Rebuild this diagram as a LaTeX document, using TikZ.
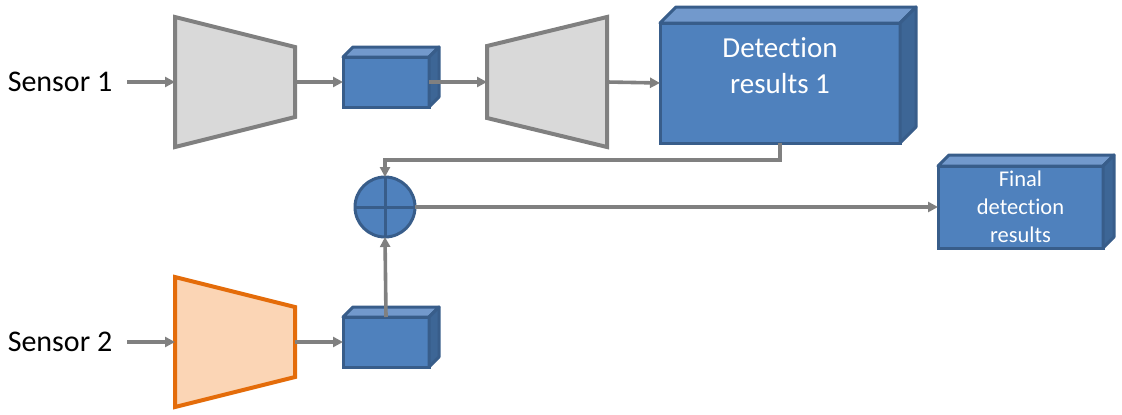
\documentclass[tikz,border=0pt]{standalone}
\usepackage{fontspec}
\setmainfont{Carlito}[RawFeature={-liga;-calt;-clig}]
\usetikzlibrary{calc, arrows.meta}
\definecolor{boxblue}{HTML}{4F81BD}
\definecolor{boxedge}{HTML}{385D8A}
\definecolor{boxtop}{HTML}{7299CC}
\definecolor{boxside}{HTML}{3D6696}
\definecolor{encgray}{HTML}{D9D9D9}
\definecolor{linegray}{HTML}{808080}
\definecolor{encorange}{HTML}{E46C0A}
\definecolor{encpeach}{HTML}{FBD5B5}
\xdef\LWS{3.6pt}
\xdef\LWT{4pt}
\xdef\LWB{3pt}
\newcommand\Cuboid[2]{%
\filldraw[boxtop,draw=boxedge,line width=\LWB,line join=round] (#1.north west)--++(#2,-#2)--($(#1.north east)+(#2,-#2)$)--(#1.north east)--cycle;
\filldraw[boxside,draw=boxedge,line width=\LWB,line join=round] (#1.north east)--++(#2,-#2)--($(#1.south east)+(#2,-#2)$)--(#1.south east)--cycle;}

\begin{document}
\begin{tikzpicture}[x=1pt,y=-1pt,inner sep=0,outer sep=0,
 flow/.style={line width=\LWS,linegray,-{Triangle[length=10pt,width=10pt]}},
 taper/.style={minimum width=120pt,minimum height=130pt},
 cube/.style={rectangle,fill=boxblue,draw=boxedge,line width=\LWB},
 sensor/.style={font=\fontsize{30}{36}\selectfont},
 boxtext/.style={white,align=center}]
\useasboundingbox (0,0) rectangle (1122,415);
\node[sensor] (s1) at (60,82) {Sensor 1};
\node[sensor] (s2) at (60,342) {Sensor 2};
\node[taper] (enc1) at (235,82) {};
\node[taper] (dec1) at (547,82) {};
\node[taper] (enc2) at (235,342) {};
\draw[line width=\LWT,linegray,fill=encgray] (enc1.north west)--($(enc1.north east)+(0,30)$)--($(enc1.south east)+(0,-30)$)--(enc1.south west)--cycle;
\draw[line width=\LWT,linegray,fill=encgray] ($(dec1.north west)+(0,29)$)--(dec1.north east)--(dec1.south east)--($(dec1.south west)+(0,-29)$)--cycle;
\draw[line width=\LWT,encorange,fill=encpeach] (enc2.north west)--($(enc2.north east)+(0,30)$)--($(enc2.south east)+(0,-30)$)--(enc2.south west)--cycle;
\node[cube,minimum width=86pt,minimum height=50pt] (f1) at (386,82) {};
\Cuboid{f1}{10}
\node[cube,minimum width=86pt,minimum height=50pt] (f2) at (386,342) {};
\Cuboid{f2}{10}
\node[cube,minimum width=240pt,minimum height=120pt] (det1) at (780,83) {};
\Cuboid{det1}{16}
\node[boxtext,font=\fontsize{29}{36}\selectfont] (det1txt) at ($(det1)+(0,-17.5)$) {Detection\\results 1};
\node[cube,minimum width=165pt,minimum height=82pt] (fin) at (1020.5,207) {};
\Cuboid{fin}{11}
\node[boxtext,font=\fontsize{22.5}{28}\selectfont] (fintxt) at (fin) {Final\\detection\\results};
\node[circle,fill=boxblue,draw=boxedge,line width=\LWB,minimum size=60pt] (sum) at (385,207) {};
\draw[boxedge,line width=\LWB] (sum.north)--(sum.south) (sum.west)--(sum.east);
\draw[flow] ([xshift=15pt]s1.east)--(enc1.west);
\draw[flow] (enc1.east)--(f1.west);
\draw[flow] (f1.east)--(dec1.west);
\draw[flow] (dec1.east)--(det1.west);
\draw[flow] (det1.south)--++(0,17)-|(sum.north);
\draw[flow] (sum.east)--(fin.west);
\draw[flow] ([xshift=15pt]s2.east)--(enc2.west);
\draw[flow] (enc2.east)--(f2.west);
\draw[flow] (f2.north)--(sum.south);
\end{tikzpicture}
\end{document}
